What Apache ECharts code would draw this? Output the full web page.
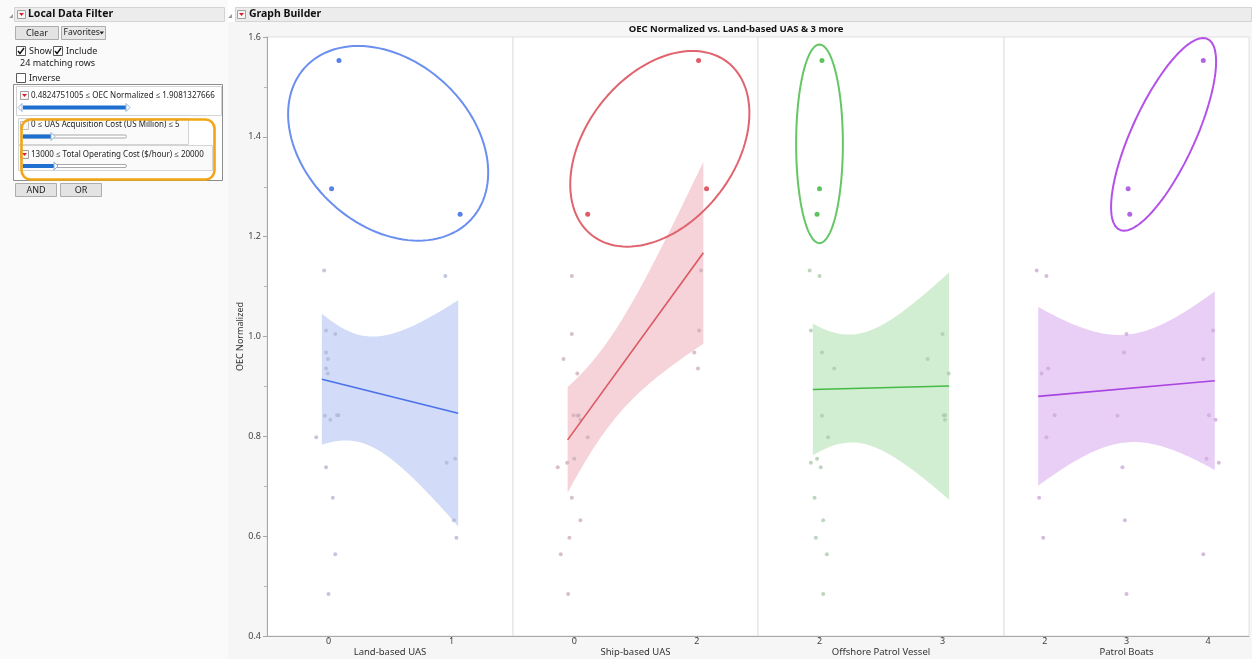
<!DOCTYPE html>
<html>
<head>
<meta charset="utf-8">
<title>OEC Normalized vs. Land-based UAS &amp; 3 more</title>
<script src="https://cdn.jsdelivr.net/npm/echarts@6/dist/echarts.min.js"></script>
<style>
  html, body { margin: 0; padding: 0; background: #fff; }
  #main { width: 1252px; height: 659px; }
</style>
</head>
<body>
<div id="main"></div>
<script>
/*
 * OEC Normalized vs. Land-based UAS & 3 more (JMP Graph Builder look-alike)
 */

// OEC Normalized, one value per row; rows 0-2 are the selected rows
var oecNormalized = [1.553, 1.296, 1.245, 1.132, 1.121, 1.012, 1.005, 0.968, 0.955, 0.936, 0.926, 0.842,
  0.842, 0.841, 0.833, 0.798, 0.755, 0.747, 0.738, 0.677, 0.632, 0.597, 0.564, 0.484];
var selectedRows = [0, 1, 2];

// x of each row as plotted (JMP jitters the points a little)
var landBasedUAS = [0.085, 0.025, 1.07, -0.035, 0.95, -0.02, 0.055, -0.02, -0.005, -0.02, -0.005, 0.07,
  0.08, -0.03, 0.015, -0.1, 1.03, 0.96, -0.02, 0.035, 1.02, 1.04, 0.055, 0.0];
var shipBasedUAS = [2.03, 2.16, 0.22, 2.07, -0.04, 2.04, -0.04, 1.96, -0.175, 2.02, 0.05, -0.01,
  0.07, 0.06, 0.1, 0.22, 0.0, -0.115, -0.27, -0.04, 0.1, -0.08, -0.22, -0.1];
var offshorePatrolVessel = [2.02, 2.0, 1.98, 1.92, 2.0, 1.93, 3.0, 2.02, 2.88, 2.12, 3.05, 3.01,
  3.02, 2.02, 3.02, 2.07, 1.98, 1.93, 2.01, 1.96, 2.03, 1.97, 2.06, 2.03];
var patrolBoats = [3.94, 3.02, 3.04, 1.9, 2.02, 4.06, 3.0, 2.97, 3.94, 2.04, 1.96, 2.12,
  4.01, 2.89, 4.09, 2.02, 3.98, 4.13, 2.95, 1.93, 2.98, 1.98, 3.94, 3.0];

var panelNames = ['Land-based UAS', 'Ship-based UAS', 'Offshore Patrol Vessel', 'Patrol Boats'];
var panelX = [landBasedUAS, shipBasedUAS, offshorePatrolVessel, patrolBoats];
var xMin = [-0.5, -1, 1.5, 1.5];
var xMax = [1.5, 3, 3.5, 4.5];
var xTicks = [[0, 1], [0, 2], [2, 3], [2, 3, 4]];

// annotation ellipses drawn round the selected rows (data units):
// centre, half horizontal chord, shift of the top point, half height
var ellipseCx = [0.485, 1.397, 2.0, 3.454];
var ellipseCy = [1.387, 1.376, 1.386, 1.405];
var ellipseHalfChord = [0.776, 1.362, 0.19, 0.422];
var ellipseTopShift = [-0.244, 0.533, 0, 0.485];
var ellipseHalfHeight = [0.195, 0.196, 0.199, 0.193];

// filter panel texts
var filterTexts = [
  '0.4824751005 \u2264 OEC Normalized \u2264 1.9081327666',
  '0 \u2264 UAS Acquisition Cost (US Million) \u2264 5',
  '13000 \u2264 Total Operating Cost ($/hour) \u2264 20000'
];

/////////////// 样式 ////////////////////////
var lineColors = ['#4a72e8', '#dd5561', '#45b945', '#a845e0'];
var ellipseColors = ['#6a8ff0', '#e0646e', '#66c666', '#b452e8'];
var bandColors = ['#d2dcf8', '#f5d3d8', '#d2eed2', '#e9cff6'];
var pointColors = ['#2f62e6', '#d8323f', '#35b535', '#a03ddd'];
var grayColors = ['#b3b9d6', '#d0afb9', '#afcaaf', '#ccaad9'];
var FONT = '"Noto Sans", "Open Sans", sans-serif';
var T_CRIT = 2.0739; // t(0.975, 22)

var gridLeft = [267, 513, 758, 1004];
var gridWidth = [246, 245, 246, 245];
var GRID_TOP = 37;
var GRID_H = 599;

/////////////// 拟合 ////////////////////////
function lineFit(xs, ys) {
  var n = xs.length, mx = 0, my = 0, i;
  for (i = 0; i < n; i++) { mx += xs[i]; my += ys[i]; }
  mx /= n; my /= n;
  var sxx = 0, sxy = 0;
  for (i = 0; i < n; i++) {
    sxx += (xs[i] - mx) * (xs[i] - mx);
    sxy += (xs[i] - mx) * (ys[i] - my);
  }
  var b = sxy / sxx, a = my - b * mx, sse = 0;
  for (i = 0; i < n; i++) {
    var r = ys[i] - a - b * xs[i];
    sse += r * r;
  }
  return { a: a, b: b, mx: mx, sxx: sxx, n: n, s: Math.sqrt(sse / (n - 2)) };
}

function buildPanel(i) {
  var xs = panelX[i];
  var nominal = xs.map(function (v) { return Math.round(v); });
  var fit = lineFit(nominal, oecNormalized);
  var lo = Math.min.apply(null, nominal), hi = Math.max.apply(null, nominal);
  var pad = 0.027 * (xMax[i] - xMin[i]);
  var x0 = lo - pad, x1 = hi + pad;
  var upper = [], lower = [];
  for (var k = 0; k <= 60; k++) {
    var x = x0 + (x1 - x0) * k / 60;
    var yhat = fit.a + fit.b * x;
    var half = T_CRIT * fit.s * Math.sqrt(1 / fit.n + (x - fit.mx) * (x - fit.mx) / fit.sxx);
    upper.push([x, yhat + half]);
    lower.push([x, yhat - half]);
  }
  var gray = [], sel = [];
  xs.forEach(function (v, r) {
    if (selectedRows.indexOf(r) >= 0) sel.push([v, oecNormalized[r]]);
    else gray.push([v, oecNormalized[r]]);
  });
  var ell = [];
  for (k = 0; k <= 120; k++) {
    var t = 2 * Math.PI * k / 120;
    ell.push([ellipseCx[i] + ellipseHalfChord[i] * Math.cos(t) + ellipseTopShift[i] * Math.sin(t),
      ellipseCy[i] + ellipseHalfHeight[i] * Math.sin(t)]);
  }
  return [
    {
      type: 'custom', xAxisIndex: i, yAxisIndex: i, silent: true, z: 1,
      data: [upper[0]],
      renderItem: function (params, api) {
        var pts = upper.map(function (p) { return api.coord(p); })
          .concat(lower.slice().reverse().map(function (p) { return api.coord(p); }));
        return { type: 'polygon', shape: { points: pts }, style: { fill: bandColors[i] } };
      }
    },
    {
      type: 'scatter', xAxisIndex: i, yAxisIndex: i, silent: true, z: 2,
      symbolSize: 4, data: gray, itemStyle: { color: grayColors[i] }
    },
    {
      type: 'line', xAxisIndex: i, yAxisIndex: i, silent: true, z: 3,
      showSymbol: false, data: [[x0, fit.a + fit.b * x0], [x1, fit.a + fit.b * x1]],
      lineStyle: { color: lineColors[i], width: 1.6 }
    },
    {
      type: 'scatter', xAxisIndex: i, yAxisIndex: i, silent: true, z: 4,
      symbolSize: 5, data: sel, itemStyle: { color: pointColors[i] }
    },
    {
      type: 'line', xAxisIndex: i, yAxisIndex: i, silent: true, z: 5,
      showSymbol: false, clip: false, data: ell,
      lineStyle: { color: ellipseColors[i], width: 2 }
    }
  ];
}

/////////////// 左侧面板 ////////////////////////
function rect(x, y, w, h, fill, stroke, extra) {
  var el = { type: 'rect', shape: { x: x, y: y, width: w, height: h, r: (extra && extra.r) || 0 },
    style: { fill: fill, stroke: stroke || null, lineWidth: (extra && extra.lw) || 1 }, silent: true };
  return el;
}
function text(x, y, str, size, opt) {
  opt = opt || {};
  return { type: 'text', x: x, y: y, silent: true, z: 10,
    style: { text: str, fill: opt.color || '#222', align: opt.align || 'left', verticalAlign: 'middle',
      font: (opt.bold ? 'bold ' : '') + size + 'px ' + FONT } };
}
function poly(points, fill, stroke) {
  return { type: 'polygon', shape: { points: points }, silent: true, z: 10,
    style: { fill: fill, stroke: stroke || null, lineWidth: 1 } };
}
function redMenu(x, y) {
  return [rect(x + 0.5, y + 0.5, 8, 8, '#f7f7f7', '#a0a0a0'),
    poly([[x + 2, y + 3], [x + 7, y + 3], [x + 4.5, y + 6]], '#d9202c')];
}
function checkBox(x, y, checked) {
  var out = [rect(x + 0.5, y + 0.5, 9, 9, '#fff', '#5a5a5a')];
  if (checked) {
    out.push({ type: 'polyline', silent: true, z: 11,
      shape: { points: [[x + 2, y + 5], [x + 4, y + 7.5], [x + 8, y + 2]] },
      style: { stroke: '#111', lineWidth: 1.4, fill: null } });
  }
  return out;
}
function slider(y, fillTo, full) {
  var out = [];
  if (!full) out.push(rect(22.5, y - 1.5, 104, 3, '#fff', '#a8a8a8', { r: 1.5 }));
  out.push(rect(23, y - 2, fillTo - 23, 4, '#1f6fd0'));
  if (full) {
    out.push(poly([[22, y - 4], [18, y], [22, y + 4]], '#fff', '#8fb0da'));
    out.push(poly([[fillTo, y - 4], [fillTo + 4, y], [fillTo, y + 4]], '#fff', '#8fb0da'));
  } else {
    out.push(poly([[fillTo - 1, y - 4], [fillTo + 3, y], [fillTo - 1, y + 4]], '#fff', '#8fb0da'));
  }
  return out;
}

var graphics = [];
function add(list) { graphics = graphics.concat(list); }

// backgrounds (left panel only; the graph frame uses the chart background)
add([rect(0, 0, 228, 659, '#fafafa'), rect(228, 0, 1024, 22, '#ffffff')]);
// header bars
add([rect(14.5, 7.5, 210, 14, '#ececec', '#d4d4d4'), rect(235.5, 7.5, 1016, 14, '#ececec', '#d4d4d4')]);
add([poly([[9, 18], [13, 14], [13, 18]], '#9a9a9a'), poly([[228, 18], [232, 14], [232, 18]], '#9a9a9a')]);
add(redMenu(17, 10));
add(redMenu(237, 10));
add([text(28, 14.5, 'Local Data Filter', 10.5, { bold: true, color: '#111' }),
  text(249, 14.5, 'Graph Builder', 10.5, { bold: true, color: '#111' })]);
// buttons
add([rect(15.5, 26.5, 43, 13, '#e3e3e3', '#adadad'), text(37, 33, 'Clear', 9, { align: 'center' }),
  rect(61.5, 26.5, 44, 13, '#e8e8e8', '#adadad'), text(63.5, 33, 'Favorites', 8.5),
  poly([[99.5, 31.5], [104, 31.5], [101.75, 34.5]], '#222')]);
add(checkBox(16, 46, true));
add(checkBox(53, 46, true));
add([text(29, 51, 'Show', 9), text(66, 51, 'Include', 9), text(20, 63, '24 matching rows', 9)]);
add(checkBox(16, 73, false));
add([text(29, 78, 'Inverse', 9)]);
// filter box
add([rect(13.5, 84.5, 209, 96, '#fff', '#8c8c8c'),
  rect(16.5, 86.5, 205, 29, '#fff', '#d4d4d4'),
  rect(18.5, 118.5, 170, 26, '#fafafa', '#d4d4d4'),
  rect(18.5, 145.5, 194, 25, '#fafafa', '#d4d4d4')]);
add(redMenu(20, 91));
add([rect(20.5, 121.5, 8, 8, '#f7f7f7', '#c0c0c0')]);
add(redMenu(20, 150));
add([text(31, 95.5, filterTexts[0], 8), text(31, 125, filterTexts[1], 8), text(31, 154.5, filterTexts[2], 8)]);
add(slider(107.5, 126, true));
add(slider(136.5, 52, false));
add(slider(166, 55, false));
// highlight
add([{ type: 'rect', silent: true, z: 12, shape: { x: 21.5, y: 119.5, width: 193, height: 60, r: 9 },
  style: { fill: null, stroke: '#f2a615', lineWidth: 2.6 } }]);
add([rect(15.5, 183.5, 41, 13, '#e3e3e3', '#adadad'), text(36, 190, 'AND', 9, { align: 'center' }),
  rect(60.5, 183.5, 41, 13, '#e3e3e3', '#adadad'), text(81, 190, 'OR', 9, { align: 'center' })]);
// graph title
add([text(736, 29.5, 'OEC Normalized vs. Land-based UAS & 3 more', 9.5, { bold: true, align: 'center', color: '#111' })]);

/////////////// ECharts ////////////////////////
var grids = [], xAxes = [], yAxes = [], series = [];
for (var i = 0; i < 4; i++) {
  grids.push({ left: gridLeft[i], top: GRID_TOP, width: gridWidth[i], height: GRID_H,
    outerBoundsMode: 'none', containLabel: false,
    show: true, backgroundColor: '#fff', borderColor: '#e0e0e0', borderWidth: 1 });
  xAxes.push({
    gridIndex: i, type: 'value', min: xMin[i], max: xMax[i],
    name: panelNames[i], nameLocation: 'middle', nameGap: 11, nameMoveOverlap: false,
    nameTextStyle: { fontSize: 9.5, lineHeight: 11, color: '#333', fontFamily: FONT },
    axisLine: { show: true, onZero: false, lineStyle: { color: '#a8a8a8' } },
    axisTick: { show: true, length: 3, customValues: xTicks[i], lineStyle: { color: '#a8a8a8' } },
    axisLabel: { customValues: xTicks[i], fontSize: 9, lineHeight: 10, color: '#444', margin: 0, fontFamily: FONT },
    splitLine: { show: false }
  });
  yAxes.push({
    gridIndex: i, type: 'value', min: 0.4, max: 1.6, interval: 0.2, show: i === 0,
    name: i === 0 ? 'OEC Normalized' : '', nameLocation: 'middle', nameGap: 22, nameRotate: 90,
    nameMoveOverlap: false,
    nameTextStyle: { fontSize: 9, color: '#333', fontFamily: FONT },
    axisLine: { show: true, onZero: false, lineStyle: { color: '#a8a8a8' } },
    axisTick: { show: true, length: 4, lineStyle: { color: '#a8a8a8' } },
    minorTick: { show: true, splitNumber: 2, length: 3, lineStyle: { color: '#b8b8b8' } },
    axisLabel: { fontSize: 9, color: '#444', margin: 6, fontFamily: FONT,
      formatter: function (v) { return v.toFixed(1); } },
    splitLine: { show: false }
  });
  series = series.concat(buildPanel(i));
}

var chart = echarts.init(document.getElementById('main'));
chart.setOption({
  animation: false,
  backgroundColor: '#f6f6f6',
  grid: grids,
  xAxis: xAxes,
  yAxis: yAxes,
  series: series,
  graphic: { elements: graphics }
});
</script>
</body>
</html>
